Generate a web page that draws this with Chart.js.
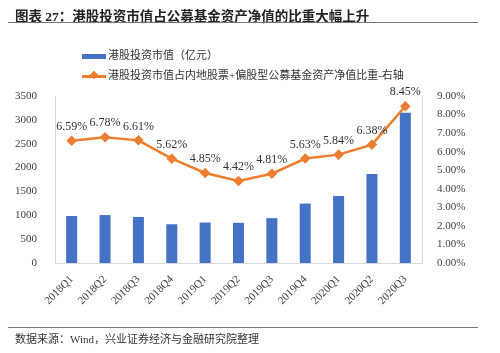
<!DOCTYPE html>
<html>
<head>
<meta charset="utf-8">
<script src="https://cdn.jsdelivr.net/npm/chart.js@4.4.0/dist/chart.umd.min.js"></script>
<style>
  body { margin: 0; width: 500px; height: 353px; background: #fff; position: relative; overflow: hidden;
         font-family: "Liberation Serif", "Noto Sans CJK SC", serif; color: #333; }
  #title { position: absolute; left: 15px; top: 5px; font-size: 13.5px; font-weight: bold; color: #222;
           font-family: "Liberation Serif", "Noto Sans CJK SC", serif; }
  #rule1 { position: absolute; left: 8px; top: 22px; width: 470px; height: 1px; background: #777; }
  #rule2 { position: absolute; left: 8px; top: 327px; width: 470px; height: 1px; background: #777; }
  #source { position: absolute; left: 15px; top: 330px; font-size: 11px; color: #333; }
  .leg { position: absolute; left: 82px; font-size: 11px; color: #333; white-space: nowrap; }
  .leg .sw { display: inline-block; vertical-align: middle; position: relative; width: 24px; margin-right: 2px; }
  #wrap { position: absolute; left: 0; top: 0; width: 500px; height: 353px; }
</style>
</head>
<body>
<div id="wrap"><canvas id="c"></canvas></div>
<div id="title">图表 27：港股投资市值占公募基金资产净值的比重大幅上升</div>
<div id="rule1"></div>
<div class="leg" style="top:46px"><span class="sw" style="height:5px;background:#4472C4"></span>港股投资市值（亿元）</div>
<div class="leg" style="top:66px"><span class="sw" style="height:3px;background:#ED7D31"><span style="position:absolute;left:9px;top:-2.5px;width:6px;height:6px;background:#ED7D31;transform:rotate(45deg)"></span></span>港股投资市值占内地股票+偏股型公募基金资产净值比重-右轴</div>
<div id="rule2"></div>
<div id="source">数据来源：Wind，兴业证券经济与金融研究院整理</div>
<script>
const quarters = ['2018Q1', '2018Q2', '2018Q3', '2018Q4', '2019Q1', '2019Q2', '2019Q3', '2019Q4', '2020Q1', '2020Q2', '2020Q3'];
const hkValue = [985, 1005, 965, 812, 848, 842, 940, 1245, 1405, 1865, 3150];   // 亿元
const hkShare = [6.59, 6.78, 6.61, 5.62, 4.85, 4.42, 4.81, 5.63, 5.84, 6.38, 8.45]; // %

const serif = "'Liberation Serif', 'Times New Roman', serif";

// draws the % label above each point of the line
const pointLabels = {
    id: 'pointLabels',
    afterDatasetsDraw(chart) {
        const ctx = chart.ctx;
        const meta = chart.getDatasetMeta(1);
        ctx.save();
        ctx.font = "12px " + serif;
        ctx.fillStyle = '#333';
        ctx.textAlign = 'center';
        ctx.textBaseline = 'bottom';
        meta.data.forEach((pt, i) => {
            ctx.fillText(hkShare[i].toFixed(2) + '%', pt.x, pt.y - 8);
        });
        ctx.restore();
    }
};

const ctx = document.getElementById('c').getContext('2d');
new Chart(ctx, {
    data: {
        labels: quarters,
        datasets: [{
            type: 'bar',
            label: '港股投资市值（亿元）',
            data: hkValue,
            backgroundColor: '#4472C4',
            yAxisID: 'y',
            order: 2,
            barPercentage: 0.66,
            categoryPercentage: 0.5
        }, {
            type: 'line',
            label: '港股投资市值占内地股票+偏股型公募基金资产净值比重-右轴',
            data: hkShare,
            borderColor: '#ED7D31',
            backgroundColor: '#ED7D31',
            borderWidth: 2.5,
            pointStyle: 'rectRot',
            pointRadius: 3.5,
            tension: 0,
            yAxisID: 'y1',
            order: 1
        }]
    },
    options: {
        responsive: true,
        maintainAspectRatio: false,
        animation: false,
        layout: { padding: { top: 96, bottom: 40, left: 0, right: 0 } },
        plugins: { legend: { display: false }, tooltip: { enabled: false } },
        scales: {
            x: {
                grid: { display: false },
                border: { color: '#d9d9d9' },
                ticks: {
                    color: '#404040', font: { family: serif, size: 11 },
                    minRotation: 45, maxRotation: 45, padding: 2
                },
                afterFit: s => { s.height = 50; }
            },
            y: {
                position: 'left',
                min: 0, max: 3500,
                grid: { display: false },
                border: { color: '#d9d9d9' },
                ticks: {
                    stepSize: 500, color: '#404040', font: { family: serif, size: 11 }, padding: 10,
                    callback: v => String(v)
                },
                afterFit: s => { s.width = 55; }
            },
            y1: {
                position: 'right',
                min: 0, max: 9,
                grid: { display: false },
                border: { color: '#d9d9d9' },
                ticks: {
                    stepSize: 1, color: '#404040', font: { family: serif, size: 11 }, padding: 7,
                    callback: v => v.toFixed(2) + '%'
                },
                afterFit: s => { s.width = 78; }
            }
        }
    },
    plugins: [pointLabels]
});
</script>
</body>
</html>
